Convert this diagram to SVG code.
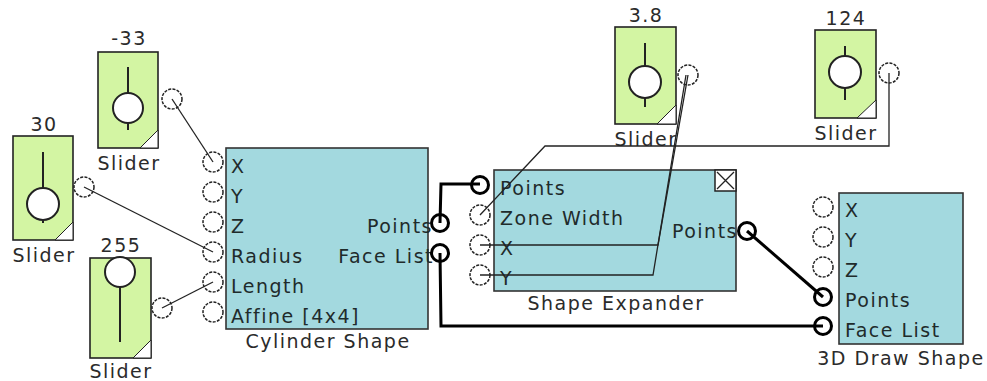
<svg xmlns="http://www.w3.org/2000/svg" width="987" height="381" viewBox="0 0 987 381">
<style>
text{font-family:"DejaVu Sans","Verdana",sans-serif;font-size:19px;letter-spacing:1.5px;fill:#2b2b2b}
.lbl{fill:#1f2b2b}
.mid{text-anchor:middle}
.end{text-anchor:end}
.sbox{fill:#d3f5a3;stroke:#222;stroke-width:1.6}
.nbox{fill:#a3d9df;stroke:#333;stroke-width:1.6}
.knob{fill:#fff;stroke:#222;stroke-width:2}
.stem{stroke:#222;stroke-width:2}
.tri{fill:#fff;stroke:#222;stroke-width:1}
.port{fill:#fff;stroke:#222;stroke-width:1.5;stroke-dasharray:3 1.3}
.bport{fill:#fff;stroke:#000;stroke-width:3}
.thin{fill:none;stroke:#222;stroke-width:1.3}
.bold{fill:none;stroke:#000;stroke-width:3}
</style>
<rect width="987" height="381" fill="#fff"/>

<g id="slider-m33">
<text class="mid" x="129" y="45">-33</text>
<rect class="sbox" x="98" y="52" width="60" height="96"/>
<line class="stem" x1="128" y1="67" x2="128" y2="130"/>
<circle class="knob" cx="128" cy="108" r="15"/>
<polygon class="tri" points="140,148 158,148 158,130"/>
<circle class="port" cx="172" cy="99" r="10"/>
<text class="mid" x="129" y="170">Slider</text>
</g>

<g id="slider-30">
<text class="mid" x="44" y="131">30</text>
<rect class="sbox" x="13" y="136" width="60" height="104"/>
<line class="stem" x1="43" y1="152" x2="43" y2="223"/>
<circle class="knob" cx="43" cy="204" r="16"/>
<polygon class="tri" points="55,240 73,240 73,222"/>
<circle class="port" cx="84" cy="187" r="10"/>
<text class="mid" x="44" y="262">Slider</text>
</g>

<g id="slider-255">
<text class="mid" x="121" y="252">255</text>
<rect class="sbox" x="90" y="258" width="61" height="100"/>
<line class="stem" x1="120" y1="280" x2="120" y2="342"/>
<circle class="knob" cx="120" cy="272" r="15"/>
<polygon class="tri" points="133,358 151,358 151,340"/>
<circle class="port" cx="162" cy="308" r="10"/>
<text class="mid" x="121" y="378">Slider</text>
</g>

<g id="slider-3-8">
<text class="mid" x="646" y="22">3.8</text>
<rect class="sbox" x="615" y="27" width="61" height="97"/>
<line class="stem" x1="645" y1="43" x2="645" y2="107"/>
<circle class="knob" cx="645" cy="82" r="16"/>
<polygon class="tri" points="657,124 676,124 676,105"/>
<circle class="port" cx="688" cy="75" r="10"/>
<text class="mid" x="646" y="146">Slider</text>
</g>

<g id="slider-124">
<text class="mid" x="846" y="25">124</text>
<rect class="sbox" x="815" y="30" width="61" height="88"/>
<line class="stem" x1="845" y1="46" x2="845" y2="100"/>
<circle class="knob" cx="845" cy="72" r="16"/>
<polygon class="tri" points="857,118 876,118 876,100"/>
<circle class="port" cx="889" cy="73" r="10"/>
<text class="mid" x="846" y="140">Slider</text>
</g>

<g id="cylinder-shape">
<rect class="nbox" x="226" y="148" width="202" height="181"/>
<circle class="port" cx="213" cy="162" r="10"/>
<circle class="port" cx="213" cy="192" r="10"/>
<circle class="port" cx="213" cy="222" r="10"/>
<circle class="port" cx="213" cy="252" r="10"/>
<circle class="port" cx="213" cy="282" r="10"/>
<circle class="port" cx="213" cy="312" r="10"/>
<text class="lbl" x="231" y="173">X</text>
<text class="lbl" x="231" y="203">Y</text>
<text class="lbl" x="231" y="233">Z</text>
<text class="lbl" x="231" y="263">Radius</text>
<text class="lbl" x="231" y="293">Length</text>
<text class="lbl" x="231" y="323">Affine [4x4]</text>
<text class="lbl end" x="433" y="233">Points</text>
<text class="lbl end" x="434" y="263">Face List</text>
<circle class="bport" cx="440" cy="223" r="8.5"/>
<circle class="bport" cx="440" cy="253" r="8.5"/>
<text class="mid" x="328" y="348">Cylinder Shape</text>
</g>

<g id="shape-expander">
<rect class="nbox" x="494" y="170" width="242" height="121"/>
<rect x="715" y="170" width="21" height="21" fill="#fff" stroke="#222" stroke-width="1.5"/>
<path d="M717,172 L734,189 M734,172 L717,189" stroke="#222" stroke-width="1.3"/>
<circle class="bport" cx="480" cy="185" r="8.5"/>
<circle class="port" cx="480" cy="215" r="10"/>
<circle class="port" cx="480" cy="245" r="10"/>
<circle class="port" cx="480" cy="275" r="10"/>
<text class="lbl" x="500" y="195">Points</text>
<text class="lbl" x="500" y="225">Zone Width</text>
<text class="lbl" x="500" y="255">X</text>
<text class="lbl" x="500" y="285">Y</text>
<text class="lbl end" x="738" y="238">Points</text>
<circle class="bport" cx="747" cy="231" r="8.5"/>
<text class="mid" x="616" y="310">Shape Expander</text>
</g>

<g id="draw-3d-shape">
<rect class="nbox" x="839" y="193" width="124" height="151"/>
<circle class="port" cx="823" cy="207" r="10"/>
<circle class="port" cx="823" cy="237" r="10"/>
<circle class="port" cx="823" cy="267" r="10"/>
<circle class="bport" cx="823" cy="297" r="8.5"/>
<circle class="bport" cx="823" cy="326" r="8.5"/>
<text class="lbl" x="845" y="217">X</text>
<text class="lbl" x="845" y="247">Y</text>
<text class="lbl" x="845" y="277">Z</text>
<text class="lbl" x="845" y="307">Points</text>
<text class="lbl" x="845" y="337">Face List</text>
<text class="mid" x="901" y="365">3D Draw Shape</text>
</g>

<g id="connectors">
<line class="thin" x1="172" y1="99" x2="213" y2="162"/>
<line class="thin" x1="84" y1="187" x2="213" y2="252"/>
<line class="thin" x1="162" y1="308" x2="213" y2="282"/>
<polyline class="thin" points="889,73 889,146 545,146 480,215"/>
<polyline class="thin" points="688,75 658,245 480,245"/>
<polyline class="thin" points="686,75 653,275 480,275"/>
<polyline class="bold" points="440,223 441,184 480,184"/>
<polyline class="bold" points="440,253 441,326 823,326"/>
<line class="bold" x1="747" y1="231" x2="823" y2="297"/>
</g>
</svg>
